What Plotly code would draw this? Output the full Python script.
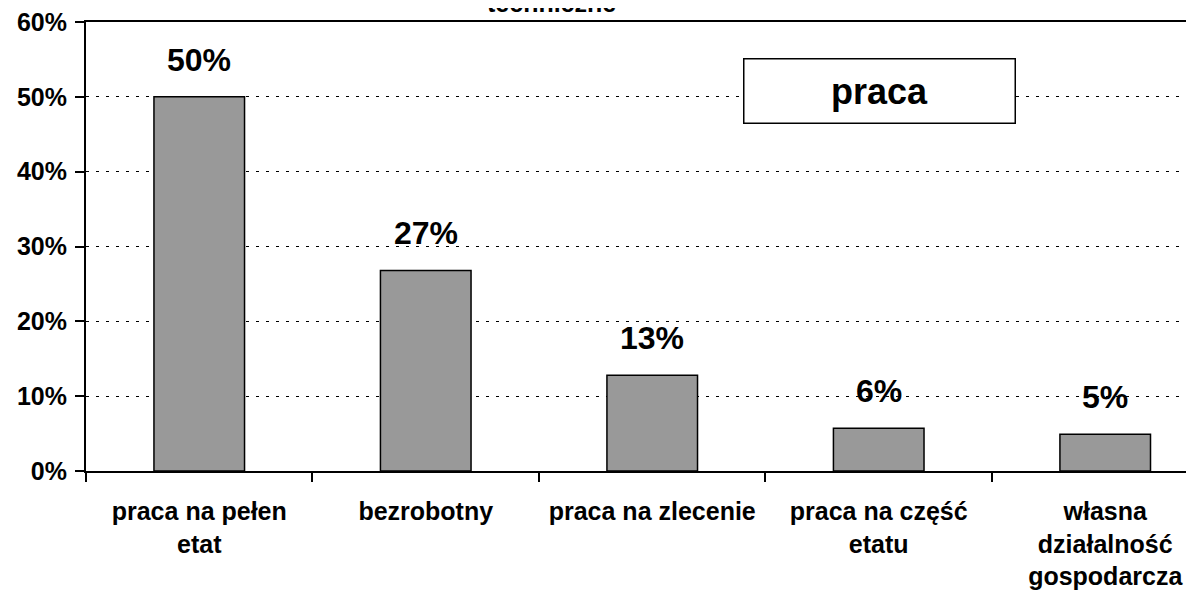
import plotly.graph_objects as go

# data
categories = ["praca na pełen<br>etat", "bezrobotny", "praca na zlecenie",
              "praca na część<br>etatu", "własna<br>działalność<br>gospodarcza"]
values = [50.0, 26.8, 12.8, 5.7, 4.9]
value_labels = ["50%", "27%", "13%", "6%", "5%"]
y_ticks = [0, 10, 20, 30, 40, 50, 60]
y_tick_labels = ["0%", "10%", "20%", "30%", "40%", "50%", "60%"]
series_name = "praca"
title_tail = "techniczne"

FONT = "Liberation Sans, Arial, sans-serif"

fig = go.Figure(go.Bar(
    x=categories,
    y=values,
    name=series_name,
    marker=dict(color="#999999", line=dict(color="black", width=1.5)),
    width=0.4,
    hoverinfo="x+y",
))

# value labels above each bar
for cat, val, lab in zip(categories, values, value_labels):
    fig.add_annotation(x=cat, y=val, text="<b>%s</b>" % lab, showarrow=False,
                       yanchor="bottom", yshift=17,
                       font=dict(family=FONT, size=32, color="black"))

# legend box
fig.add_annotation(xref="paper", yref="paper", x=0.716, y=0.846,
                   xanchor="center", yanchor="middle",
                   text="<b>%s</b>" % series_name, showarrow=False,
                   width=270, height=63, borderpad=0,
                   bordercolor="black", borderwidth=1.5, bgcolor="white",
                   font=dict(family=FONT, size=36, color="black"))

# chart title, only its last line shows at the top edge
fig.add_annotation(xref="paper", yref="paper", x=0.42, y=1.0, yshift=3,
                   xanchor="center", yanchor="bottom",
                   text="<b>%s</b>" % title_tail, showarrow=False,
                   font=dict(family=FONT, size=25, color="black"))

# page body has an 8px margin, so the figure is sized/margined to compensate
fig.update_layout(
    width=1186, height=584,
    margin=dict(l=78, r=0, t=14, b=121, autoexpand=False),
    paper_bgcolor="white", plot_bgcolor="white",
    showlegend=False,
    font=dict(family=FONT, size=25, color="black"),
    xaxis=dict(
        type="category",
        range=[-0.5, 4.392],
        automargin=False,
        showline=True, linecolor="black", linewidth=2, mirror=True,
        ticks="outside", tickson="boundaries", ticklen=9,
        tickcolor="black", tickwidth=1.5,
        ticklabelstandoff=17,
        ticklabeloverflow="allow",
        showgrid=False,
        tickfont=dict(family=FONT, size=25, color="black", weight="bold"),
    ),
    yaxis=dict(
        range=[0, 60],
        automargin=False,
        tickvals=y_ticks,
        ticktext=y_tick_labels,
        showline=True, linecolor="black", linewidth=2,
        ticks="outside", ticklen=9, tickcolor="black", tickwidth=1.5,
        ticklabelstandoff=3,
        ticklabeloverflow="allow",
        showgrid=True, gridcolor="black", gridwidth=1, griddash="3px,7px",
        zeroline=False,
        tickfont=dict(family=FONT, size=25, color="black", weight="bold"),
    ),
)

fig.write_html("out.html")
